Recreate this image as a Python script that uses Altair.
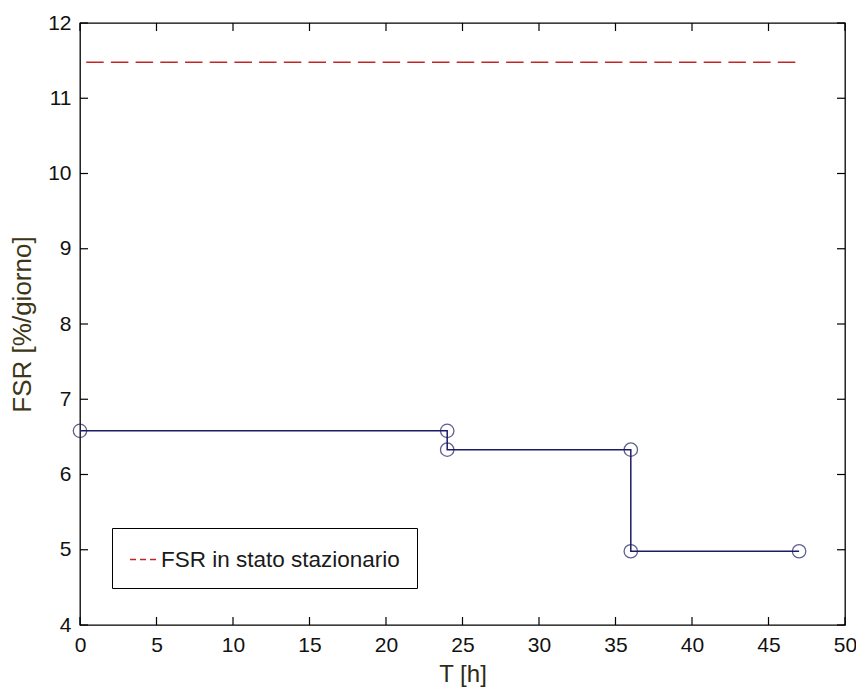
import altair as alt
import pandas as pd

# Data
t_hours = [0, 24, 24, 36, 36, 47]
fsr_values = [6.58, 6.58, 6.33, 6.33, 4.98, 4.98]

steady_t = [0, 47]
steady_fsr = [11.48, 11.48]
steady_label = "FSR in stato stazionario"

x_ticks = [0, 5, 10, 15, 20, 25, 30, 35, 40, 45, 50]
y_ticks = [4, 5, 6, 7, 8, 9, 10, 11, 12]

W, H = 765, 602
FONT = "Liberation Sans"
TICKLEN = 8

df = pd.DataFrame({"t": t_hours, "fsr": fsr_values, "order": list(range(len(t_hours)))})
df_ss = pd.DataFrame({"t": steady_t, "fsr": steady_fsr, "series": [steady_label] * len(steady_t)})
df_xt = pd.DataFrame({"v": x_ticks})
df_yt = pd.DataFrame({"v": y_ticks})

xscale = alt.Scale(domain=[0, 50], nice=False, zero=False)
yscale = alt.Scale(domain=[4, 12], nice=False, zero=False)

xaxis = alt.Axis(values=x_ticks, format="d", ticks=False, domain=False, grid=False,
                 labelFlush=False,
                 labelFont=FONT, labelFontSize=21, labelColor="#111111", labelPadding=9,
                 title="T [h]", titleFont=FONT, titleFontSize=24, titleFontWeight="normal",
                 titleColor="#2e2c18", titlePadding=7)
yaxis = alt.Axis(values=y_ticks, format="d", ticks=False, domain=False, grid=False,
                 labelFlush=False,
                 labelFont=FONT, labelFontSize=21, labelColor="#111111", labelPadding=9,
                 title="FSR [%/giorno]", titleFont=FONT, titleFontSize=26, titleFontWeight="normal",
                 titleColor="#3d3616", titlePadding=12)

line = alt.Chart(df).mark_line(color="#1c1c66", strokeWidth=1.5).encode(
    x=alt.X("t:Q", scale=xscale, axis=xaxis),
    y=alt.Y("fsr:Q", scale=yscale, axis=yaxis),
    order="order:Q",
)
points = alt.Chart(df).mark_point(shape="circle", filled=False, size=180,
                                  color="#1c1c66", strokeWidth=1.3).encode(
    x="t:Q", y="fsr:Q"
)

steady = alt.Chart(df_ss).mark_line(strokeWidth=1.5, strokeDash=[17.5, 7.2],
                                    strokeDashOffset=18.5).encode(
    x="t:Q", y="fsr:Q",
    color=alt.Color("series:N", scale=alt.Scale(range=["#c02828"]),
                    legend=alt.Legend(title=None, orient="none", legendX=32, legendY=505,
                                      symbolType="stroke", symbolSize=729,
                                      symbolDash=[6, 4], symbolStrokeWidth=1.5,
                                      labelFont=FONT, labelFontSize=22.5,
                                      labelColor="#1a1a1a", labelLimit=500,
                                      labelOffset=3,
                                      padding=17, strokeColor="#000000",
                                      fillColor="#ffffff")),
)

tick_b = alt.Chart(df_xt).mark_rule(color="black", strokeWidth=1.2).encode(
    x="v:Q", y=alt.value(H), y2=alt.value(H - TICKLEN))
tick_t = alt.Chart(df_xt).mark_rule(color="black", strokeWidth=1.2).encode(
    x="v:Q", y=alt.value(0), y2=alt.value(TICKLEN))
tick_l = alt.Chart(df_yt).mark_rule(color="black", strokeWidth=1.2).encode(
    y="v:Q", x=alt.value(0), x2=alt.value(TICKLEN))
tick_r = alt.Chart(df_yt).mark_rule(color="black", strokeWidth=1.2).encode(
    y="v:Q", x=alt.value(W), x2=alt.value(W - TICKLEN))

chart = alt.layer(steady, line, points, tick_b, tick_t, tick_l, tick_r).properties(
    width=W, height=H,
    autosize=alt.AutoSizeParams(type="none"),
    padding={"left": 72, "top": 15, "right": 11, "bottom": 62},
    background="white",
).configure_view(stroke="black", strokeWidth=1.3)

chart.save("out.html", embed_options={"renderer": "svg", "actions": False})
